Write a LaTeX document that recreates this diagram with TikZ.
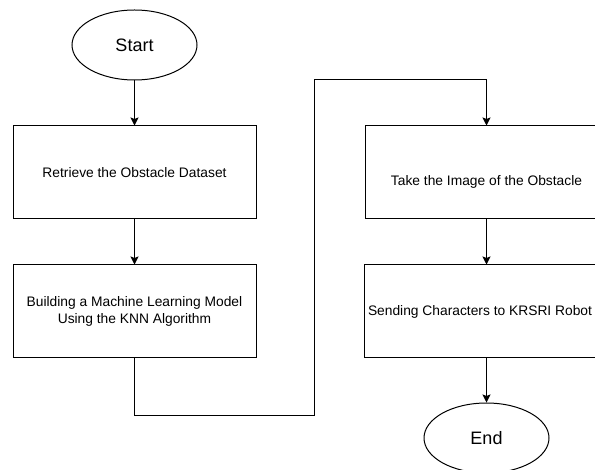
\documentclass[tikz,border=0pt]{standalone}
\usepackage{fontspec}
\setmainfont{Liberation Sans}
\usetikzlibrary{arrows.meta}
\usetikzlibrary{shapes.geometric}
\usetikzlibrary{positioning}

\tikzset{
  terminal/.style={draw, ellipse, minimum width=125pt, minimum height=70pt,
    font=\fontsize{18}{21}\selectfont},
  process/.style={draw, rectangle, minimum width=243pt, minimum height=93pt,
    align=center, font=\fontsize{13.8}{17}\selectfont},
  flow/.style={-{Stealth[length=8pt,width=8pt,inset=1.5pt]}}
}

\begin{document}
\begin{tikzpicture}[x=1pt,y=-1pt,line width=1pt]
\useasboundingbox (0,0) rectangle (595,470);
\clip (0,0) rectangle (595,470);

\node[terminal] (start) at (134.5,45) {Start};
\node[process] (retrieve) at (134.5,172.5) {Retrieve the Obstacle Dataset};
\node[process] (model) at (134.5,311.5) {Building a Machine Learning Model\\Using the KNN Algorithm};

\node[process] (image) at (486.5,172.5) {\raisebox{-9pt}[\height][\depth]{Take the Image of the Obstacle}};
\node[process] (send) at (486.5,311.5) {Sending Characters to KRSRI Robot\hspace*{13pt}};
\node[terminal] (stop) at (486.5,438) {End};

\coordinate (low) at (314,416);
\coordinate (high) at (314,80);

\draw[flow] (start) -- (retrieve);
\draw[flow] (retrieve) -- (model);
\draw[flow] (model.south) |- (low) -- (high) -| (image.north);
\draw[flow] (image) -- (send);
\draw[flow] (send) -- (stop);
\end{tikzpicture}
\end{document}
